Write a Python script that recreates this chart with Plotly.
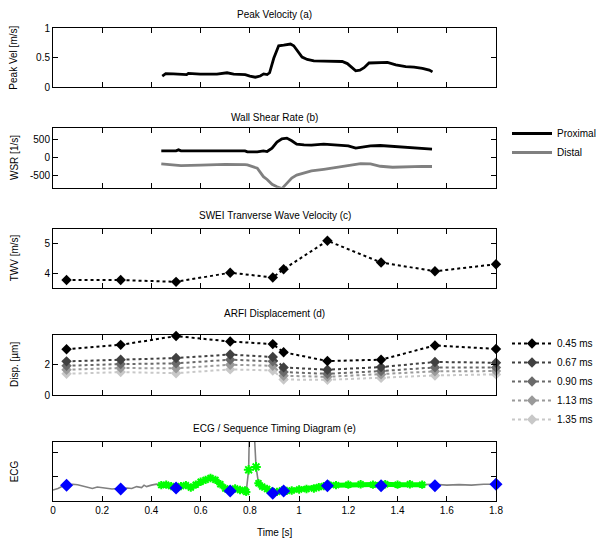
import numpy as np
import plotly.graph_objects as go

# ---------------- data ----------------
# (a) Peak velocity
pv_t = [0.444, 0.458, 0.489, 0.543, 0.550, 0.598, 0.666, 0.707, 0.734, 0.781, 0.800, 0.822, 0.842,
        0.856, 0.870, 0.880, 0.897, 0.917, 0.9375, 0.965, 0.978, 0.999, 1.012, 1.033, 1.060, 1.100,
        1.141, 1.175, 1.196, 1.216, 1.230, 1.247, 1.264, 1.284, 1.318, 1.359, 1.393, 1.433, 1.467,
        1.501, 1.529, 1.542]
pv_v = [0.19, 0.23, 0.225, 0.215, 0.235, 0.222, 0.222, 0.245, 0.222, 0.215, 0.19, 0.17, 0.19,
        0.226, 0.215, 0.245, 0.49, 0.70, 0.71, 0.73, 0.70, 0.58, 0.51, 0.47, 0.446, 0.44,
        0.44, 0.435, 0.40, 0.32, 0.277, 0.29, 0.33, 0.41, 0.42, 0.42, 0.38, 0.35, 0.34,
        0.32, 0.29, 0.26]

# (b) Wall shear rate
wsr_t = [0.44, 0.50, 0.51, 0.52, 0.60, 0.70, 0.78, 0.79, 0.83, 0.855, 0.87, 0.89, 0.91, 0.93, 0.95,
         0.97, 0.99, 1.02, 1.05, 1.10, 1.15, 1.20, 1.23, 1.25, 1.29, 1.33, 1.38, 1.42, 1.46, 1.50, 1.54]
wsr_prox = [183, 183, 210, 183, 183, 183, 183, 155, 155, 183, 165, 257, 422, 513, 532,
            458, 367, 348, 340, 367, 340, 321, 257, 284, 321, 330, 303, 300, 275, 257, 229]
wsr_dist = [-174, -202, -205, -220, -210, -185, -193, -200, -293, -523, -600, -733, -797, -850, -706,
            -560, -480, -431, -367, -321, -275, -211, -183, -165, -175, -238, -266, -255, -248, -240, -245]

# (c) + (d) acquisition times
acq_t = [0.055, 0.275, 0.5, 0.72, 0.893, 0.937, 1.115, 1.333, 1.552, 1.8]
twv = [3.76, 3.76, 3.70, 4.01, 3.85, 4.13, 5.10, 4.36, 4.06, 4.30]

disp_labels = ["0.45 ms", "0.67 ms", "0.90 ms", "1.13 ms", "1.35 ms"]
disp_045 = [3.02, 3.31, 3.89, 3.53, 3.36, 2.82, 2.24, 2.33, 3.27, 3.04]
disp_067 = [2.22, 2.33, 2.44, 2.67, 2.51, 1.82, 1.67, 1.84, 2.18, 2.13]
disp_090 = [1.93, 2.04, 2.09, 2.33, 2.22, 1.51, 1.40, 1.58, 1.82, 1.82]
disp_113 = [1.67, 1.78, 1.76, 2.00, 1.93, 1.27, 1.20, 1.36, 1.56, 1.58]
disp_135 = [1.40, 1.51, 1.44, 1.69, 1.62, 1.02, 1.00, 1.13, 1.29, 1.36]
disp_colors = ["#000000", "#404040", "#6a6a6a", "#9a9a9a", "#c8c8c8"]

# (e) ECG
ecg_t = [0.00, 0.02, 0.04, 0.06, 0.08, 0.10, 0.12, 0.14, 0.16, 0.18, 0.20, 0.22, 0.24, 0.26, 0.28,
         0.30, 0.32, 0.34, 0.36, 0.37, 0.38, 0.40, 0.42, 0.44, 0.46, 0.48, 0.50, 0.52, 0.54, 0.56,
         0.58, 0.60, 0.62, 0.64, 0.66, 0.68, 0.70, 0.72, 0.74, 0.76, 0.78, 0.785, 0.795, 0.800,
         0.810, 0.818, 0.825, 0.835, 0.85, 0.87, 0.89, 0.91, 0.93, 0.95, 0.97, 1.00, 1.03, 1.06,
         1.08, 1.10, 1.12, 1.15, 1.20, 1.25, 1.30, 1.35, 1.40, 1.45, 1.50, 1.55, 1.60, 1.65, 1.70,
         1.75, 1.80]
ecg_v = [-0.27, -0.24, -0.19, -0.17, -0.15, -0.16, -0.19, -0.22, -0.24, -0.21, -0.22, -0.24, -0.25,
         -0.24, -0.25, -0.23, -0.24, -0.20, -0.22, -0.17, -0.20, -0.17, -0.15, -0.17, -0.16, -0.19,
         -0.23, -0.19, -0.17, -0.22, -0.16, -0.10, -0.06, -0.02, -0.06, -0.15, -0.24, -0.28, -0.24,
         -0.27, -0.28, -0.31, 0.15, 1.6, 1.6, 0.9, 0.21, -0.13, -0.20, -0.25, -0.30, -0.31, -0.28,
         -0.29, -0.28, -0.26, -0.25, -0.24, -0.21, -0.19, -0.16, -0.17, -0.16, -0.15, -0.16, -0.15,
         -0.16, -0.15, -0.16, -0.15, -0.17, -0.16, -0.17, -0.15, -0.15]
acq_window = [0.44, 1.54]
ecg_marker_y = [-0.17, -0.25, -0.23, -0.29, -0.34, -0.29, -0.18, -0.18, -0.18, -0.15]

# ---------------- figure ----------------
W, H = 602, 544
ML, MR, MT, MB = 53, 106, 28, 43
PH = H - MT - MB
PW = W - ML - MR


def py(p):  # pixel y -> paper y
    return (H - MB - p) / PH


def px(p):  # pixel x -> paper x
    return (p - ML) / PW


FONT = "Liberation Sans, Arial, sans-serif"
GREEN = "#00ff00"
fig = go.Figure()

# (a)
fig.add_trace(go.Scatter(x=pv_t, y=pv_v, mode="lines", line=dict(color="black", width=2.8),
                         showlegend=False, xaxis="x", yaxis="y"))
# (b)
fig.add_trace(go.Scatter(x=wsr_t, y=wsr_prox, mode="lines", name="Proximal",
                         line=dict(color="black", width=2.8), xaxis="x2", yaxis="y2", legend="legend"))
fig.add_trace(go.Scatter(x=wsr_t, y=wsr_dist, mode="lines", name="Distal",
                         line=dict(color="#808080", width=2.8), xaxis="x2", yaxis="y2", legend="legend"))
# (c)
fig.add_trace(go.Scatter(x=acq_t, y=twv, mode="lines+markers", showlegend=False,
                         line=dict(color="black", width=2, dash="dot"),
                         marker=dict(symbol="diamond", size=8, color="black"),
                         cliponaxis=False, xaxis="x3", yaxis="y3"))
# (d)
disp_series = [disp_045, disp_067, disp_090, disp_113, disp_135]
for i in reversed(range(len(disp_series))):
    fig.add_trace(go.Scatter(x=acq_t, y=disp_series[i], mode="lines+markers", name=disp_labels[i],
                             line=dict(color=disp_colors[i], width=2, dash="dot"),
                             marker=dict(symbol="diamond", size=8, color=disp_colors[i]),
                             cliponaxis=False, legend="legend2", legendrank=i + 1,
                             xaxis="x4", yaxis="y4"))
# (e)
fig.add_trace(go.Scatter(x=ecg_t, y=ecg_v, mode="lines", showlegend=False,
                         line=dict(color="#808080", width=1.6), xaxis="x5", yaxis="y5"))
et = np.array(ecg_t)
ev = np.array(ecg_v)
mask = (et >= acq_window[0]) & (et <= acq_window[1])
seg1 = mask & (et <= 0.785)
seg2 = mask & (et >= 0.835)
for sm in (seg1, seg2):
    fig.add_trace(go.Scatter(x=et[sm], y=ev[sm], mode="lines+markers", showlegend=False,
                             line=dict(color=GREEN, width=5),
                             marker=dict(symbol="asterisk-open", size=7, color=GREEN,
                                         line=dict(color=GREEN, width=2)),
                             xaxis="x5", yaxis="y5"))
peak_sel = (et > 0.79) & (et < 0.83) & (ev < 0.5)
fig.add_trace(go.Scatter(x=et[peak_sel], y=ev[peak_sel], mode="markers", showlegend=False,
                         marker=dict(symbol="asterisk-open", size=8, color=GREEN,
                                     line=dict(color=GREEN, width=2)),
                         xaxis="x5", yaxis="y5"))
fig.add_trace(go.Scatter(x=acq_t, y=ecg_marker_y, mode="markers", showlegend=False,
                         marker=dict(symbol="diamond", size=10, color="#0000ff"),
                         cliponaxis=False, xaxis="x5", yaxis="y5"))

# axes
doms = [(28, 87.3), (128.3, 187.7), (229, 287.7), (335, 395), (441.7, 501)]
yranges = [[0, 1], [-825, 800], [3.5, 5.5], [0, 3.96], [-0.5, 0.735]]
ytv = [[0, 0.5, 1], [-500, 0, 500], [4, 5], [0, 2], [0, 0.5]]
ytt = [["0", "0.5", "1"], ["-500", "0", "500"], ["4", "5"], ["0", "2"], ["", ""]]
ytitles = ["Peak Vel [m/s]", "WSR [1/s]", "TWV [m/s]", "Disp. [\u00b5m]", "ECG"]
titles = ["Peak Velocity (a)", "Wall Shear Rate (b)", "SWEI Tranverse Wave Velocity (c)",
          "ARFI Displacement (d)", "ECG / Sequence Timing Diagram (e)"]
title_y = [14, 117, 215, 313, 428]

common = dict(showline=True, linecolor="black", linewidth=1, mirror="ticks", ticks="inside",
              ticklen=5, tickcolor="black", showgrid=False, zeroline=False, automargin=False,
              tickfont=dict(family=FONT, size=10, color="black"))
annotations = []
for k in range(5):
    sfx = "" if k == 0 else str(k + 1)
    last = k == 4
    fig.update_layout(**{
        "xaxis" + sfx: dict(common, range=[0, 1.8], tickvals=[0, 0.2, 0.4, 0.6, 0.8, 1, 1.2, 1.4, 1.6, 1.8],
                            showticklabels=last, anchor="y" + sfx, domain=[0, 1]),
        "yaxis" + sfx: dict(common, range=yranges[k], tickvals=ytv[k], ticktext=ytt[k],
                            anchor="x" + sfx,
                            domain=[py(doms[k][1]), py(doms[k][0])]),
    })
    annotations.append(dict(text=ytitles[k], textangle=-90, x=px(14), y=py((doms[k][0] + doms[k][1]) / 2),
                            xref="paper", yref="paper", showarrow=False, xanchor="center", yanchor="middle",
                            font=dict(family=FONT, size=10, color="black")))
    annotations.append(dict(text=titles[k], x=0.5, y=py(title_y[k]), xref="paper", yref="paper",
                            showarrow=False, xanchor="center", yanchor="middle",
                            font=dict(family=FONT, size=10, color="black")))
annotations.append(dict(text="Time [s]", x=0.5, y=py(532), xref="paper", yref="paper",
                        showarrow=False, xanchor="center", yanchor="middle",
                        font=dict(family=FONT, size=10, color="black")))

fig.update_layout(
    template="none",
    width=W, height=H, margin=dict(l=ML, r=MR, t=MT, b=MB, autoexpand=False),
    paper_bgcolor="white", plot_bgcolor="white",
    annotations=annotations,
    legend=dict(xref="container", yref="container", x=507 / W, y=1 - 119 / H,
                xanchor="left", yanchor="top", bgcolor="rgba(0,0,0,0)",
                font=dict(family=FONT, size=10, color="black"), tracegroupgap=0, itemwidth=40),
    legend2=dict(xref="container", yref="container", x=507 / W, y=1 - 329 / H,
                 xanchor="left", yanchor="top", bgcolor="rgba(0,0,0,0)",
                 font=dict(family=FONT, size=10, color="black"), tracegroupgap=0, itemwidth=40,
                 traceorder="normal"),
)

fig.write_html("out.html", config={"displayModeBar": False},
               post_script="document.body.style.margin='0';document.body.style.padding='0';")
